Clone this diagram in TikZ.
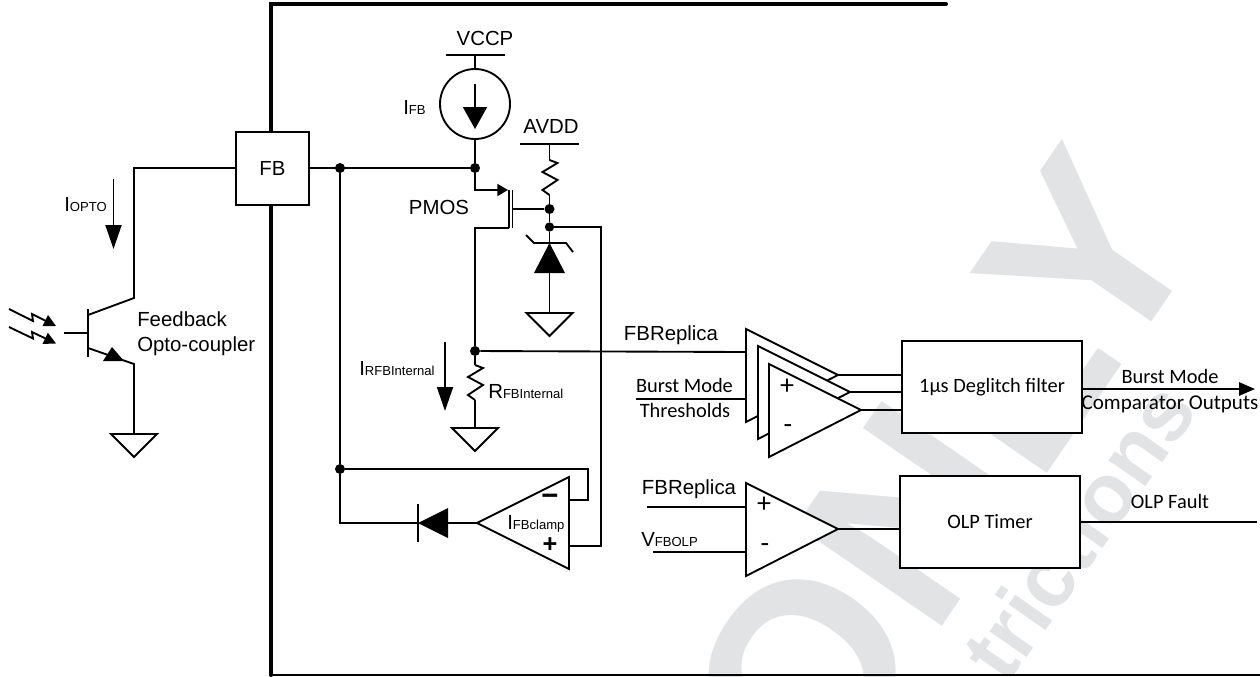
\documentclass[tikz,border=0pt]{standalone}
\usepackage{xcolor}
\usepackage{fontspec}
\usepackage{tikz}
\usetikzlibrary{arrows.meta}
\setmainfont{Liberation Sans}
\newfontfamily\calibrifont{Carlito}
\definecolor{markcolor}{HTML}{e1e3e4}
\newcommand{\sublabel}[2]{{\fontsize{15.3pt}{18pt}\selectfont #1}{\fontsize{9.8pt}{12pt}\selectfont #2}}
\newcommand{\gndsym}[1]{\draw[symline,shift={(#1)}] (-23,0) -- (23,0) -- (0,23) -- cycle;}
\newcommand{\ressym}[1]{\draw[wire,shift={(#1)}] (0,0) -- (8,3) -- (-7,12) -- (8,20) -- (-7,30) -- (0,35);}
\newcommand{\cmpsym}[1]{\draw[symline,shift={(#1)}] (0,0) -- (0,93) -- (92,46) -- cycle;}
\tikzset{
  wire/.style={line width=1.4pt, line join=miter},
  thickwire/.style={line width=3pt, line cap=round},
  symline/.style={line width=1.4pt, fill=white},
  blockbox/.style={draw, rectangle, line width=1.5pt, fill=white, inner sep=0pt, font=\calibrifont\fontsize{15.3pt}{18pt}\selectfont},
  arial/.style={inner sep=0pt, font=\fontsize{15.3pt}{18pt}\selectfont},
  calibri/.style={inner sep=0pt, font=\calibrifont\fontsize{15.3pt}{18pt}\selectfont},
  jdot/.style={circle, fill=black, inner sep=0pt, minimum size=#1},
  jdot/.default=7.5pt,
  bigsign/.style={inner sep=0pt, font=\bfseries\fontsize{17pt}{18pt}\selectfont},
  signtxt/.style={inner sep=0pt, font=\calibrifont\fontsize{21pt}{22pt}\selectfont},
  curarrow/.style={line width=1.4pt, -{Triangle[length=18pt, width=12pt]}},
  smallarrow/.style={line width=1.4pt, -{Triangle[length=8pt, width=9pt]}},
  lightarrow/.style={line width=1.4pt, -{Triangle[length=9pt, width=9pt]}},
}

\begin{document}
\begin{tikzpicture}[x=0.75pt, y=-0.75pt]%
\useasboundingbox (0,0) rectangle (1260,676);%
\begin{scope}%
\clip (0,0) rectangle (1260,676);%
\node[text=markcolor, inner sep=0pt, rotate=55.5, anchor=base east, font=\bfseries\fontsize{193pt}{193pt}\selectfont] (onlymark) at (1211,236) {ONL{}Y};%
\node[text=markcolor, inner sep=0pt, rotate=55, anchor=base east, font=\bfseries\fontsize{64pt}{64pt}\selectfont] (trictmark) at (1200,410) {trictions};%
\end{scope}%
\coordinate (framea) at (271,4);%
\coordinate (frameb) at (946,4);%
\coordinate (framec) at (271,675);%
\coordinate (framed) at (1260,675);%
\draw[thickwire] (frameb) -- (framea) -- (framec);%
\draw[line width=1.5pt] (framec) -- (framed);%
\node[blockbox, minimum width=54.5pt, minimum height=54.5pt, font=\fontsize{15.3pt}{18pt}\selectfont] (fbbox) at (272.5,168.5) {FB};%
\node[blockbox, minimum width=135pt, minimum height=69pt] (deglitchbox) at (992,387) {1µs Deglitch filter};%
\node[blockbox, minimum width=135pt, minimum height=69pt] (olpbox) at (990,522) {OLP Timer};%
\coordinate (colltop) at (134,168);%
\coordinate (collend) at (134,298);%
\coordinate (qbarc) at (88,315);%
\coordinate (qbara) at (88,309);%
\coordinate (qbarb) at (88,357);%
\coordinate (qbase) at (64,333);%
\coordinate (qbasein) at (88,333);%
\coordinate (qbare) at (88,348);%
\coordinate (emitend) at (134,364);%
\coordinate (gndq) at (134,434);%
\draw[wire] (fbbox.west |- colltop) -- (colltop) -- (collend) -- (qbarc);%
\draw[wire] (qbara) -- (qbarb);%
\draw[wire] (qbase) -- (qbasein);%
\draw[wire] (qbare) -- (emitend) -- (gndq);%
\fill (103,361) -- (112,347) -- (124,361) -- cycle;%
\gndsym{gndq}%
\coordinate (ioptoa) at (113.5,179);%
\coordinate (ioptob) at (113.5,249);%
\draw[curarrow] (ioptoa) -- (ioptob);%
\node[arial, anchor=base west] (ioptolabel) at (64,211) {\sublabel{I}{OPTO}};%
\draw[lightarrow] (9,309) -- (33,321) -- (32,314) -- (56,326);%
\draw[lightarrow] (9,327) -- (33,338.5) -- (32,332) -- (56,343.5);%
\node[arial, anchor=base west] (fblabel) at (137,326) {Feedback};%
\node[arial, anchor=base west] (optolabel) at (137,351) {Opto-coupler};%
\coordinate (vccpl) at (446,55);%
\coordinate (vccpr) at (505,55);%
\coordinate (vccpmid) at (475,55);%
\node[draw, circle, line width=1.4pt, minimum size=52.5pt, inner sep=0pt] (isrc) at (475,104) {};%
\coordinate (isrca) at (475,84);%
\coordinate (isrcb) at (475,129);%
\node[arial, anchor=base] (vccplabel) at (485,45) {VCCP};%
\node[arial, anchor=base west] (ifblabel) at (403,114) {\sublabel{I}{FB}};%
\draw[wire] (vccpl) -- (vccpr);%
\draw[wire] (vccpmid) -- (isrc.north);%
\draw[line width=1.4pt, -{Triangle[length=16.5pt, width=18pt]}] (isrca) -- (isrcb);%
\node[jdot] (nodefb) at (475,168) {};%
\node[jdot] (nodeleft) at (340,168) {};%
\coordinate (srcturn) at (475,190);%
\coordinate (srctip) at (508,190);%
\coordinate (gatebarb) at (509,228);%
\coordinate (gatebara) at (509,190);%
\coordinate (gatetop) at (512.5,190);%
\coordinate (gatebot) at (512.5,228);%
\coordinate (gatein) at (512.5,209);%
\coordinate (drainturn) at (475,228);%
\draw[wire] (isrc.south) -- (nodefb);%
\draw[wire] (fbbox.east |- nodefb) -- (nodefb);%
\draw[smallarrow] (nodefb) -- (srcturn) -- (srctip);%
\draw[wire] (gatebara) -- (gatebarb);%
\draw[wire] (gatetop) -- (gatebot);%
\node[arial, anchor=base] (pmoslabel) at (439,214) {PMOS};%
\coordinate (avddl) at (520,144);%
\coordinate (avddr) at (579,144);%
\coordinate (avddmid) at (549.5,144);%
\coordinate (resa) at (549.5,160);%
\coordinate (resb) at (549.5,195);%
\node[arial, anchor=base] (avddlabel) at (551,133) {AVDD};%
\draw[wire] (avddl) -- (avddr);%
\draw[wire] (avddmid) -- (resa);%
\ressym{resa}%
\node[jdot] (nodegate) at (549.5,209) {};%
\node[jdot, minimum size=7pt] (nodeclamp) at (549.5,227) {};%
\draw[wire] (resb) -- (nodegate);%
\draw[wire] (nodegate) -- (nodeclamp);%
\draw[wire] (gatein) -- (nodegate);%
\coordinate (zenertip) at (549.5,243);%
\coordinate (zenerbase) at (549.5,273);%
\coordinate (gndz) at (549.5,313);%
\draw[wire] (nodeclamp) -- (zenertip);%
\draw[wire] (526,235) -- (534,243) -- (566,243) -- (573,252);%
\fill (zenertip) -- (565,273) -- (534,273) -- cycle;%
\draw[wire] (zenerbase) -- (gndz);%
\gndsym{gndz}%
\node[jdot] (nodefbr) at (475,351) {};%
\coordinate (resc) at (475,365);%
\coordinate (resd) at (475,400);%
\coordinate (gndr) at (475,428);%
\draw[wire] (gatebarb) -- (drainturn) -- (nodefbr);%
\draw[wire] (nodefbr) -- (resc);%
\ressym{resc}%
\draw[wire] (resd) -- (gndr);%
\gndsym{gndr}%
\coordinate (irfba) at (445,342);%
\coordinate (irfbb) at (445,411);%
\draw[curarrow] (irfba) -- (irfbb);%
\node[arial, anchor=base west] (irfblabel) at (359,375) {\sublabel{I}{RFBInternal}};%
\node[arial, anchor=base west] (rfblabel) at (488,398) {\sublabel{R}{FBInternal}};%
\node[jdot] (nodefeed) at (340,469) {};%
\coordinate (diodeout) at (340,523);%
\coordinate (diodebar) at (418,523);%
\coordinate (diodebase) at (448,523);%
\coordinate (clamptip) at (477,523);%
\coordinate (clampfeeda) at (588,469);%
\coordinate (clampfeedb) at (588,500);%
\coordinate (clampneg) at (569,500);%
\coordinate (clamppos) at (569,546);%
\coordinate (clampturn) at (601,546);%
\coordinate (clamptop) at (601,227);%
\draw[wire] (nodeleft) -- (nodefeed) -- (diodeout) -- (diodebar);%
\draw[wire] (418,504) -- (418,542);%
\fill (diodebar) -- (448,508) -- (448,538) -- cycle;%
\draw[wire] (diodebase) -- (clamptip);%
\draw[wire] (nodefeed) -- (clampfeeda) -- (clampfeedb) -- (clampneg);%
\draw[wire] (nodeclamp) -- (clamptop) -- (clampturn) -- (clamppos);%
\draw[wire] (nodefbr) -- (746,352);%
\draw[symline] (clamptip) -- (569,477) -- (569,569) -- cycle;%
\node[bigsign, font=\bfseries\fontsize{22pt}{22pt}\selectfont] (clampminus) at (550,500) {−};%
\node[bigsign, font=\bfseries\fontsize{19pt}{22pt}\selectfont] (clampplus) at (550,545) {+};%
\node[arial, anchor=base west] (clamplabel) at (507,529) {\sublabel{I}{FBclamp}};%
\node[arial, anchor=base] (replicaa) at (671,340) {FBReplica};%
\node[calibri, anchor=base] (burstin) at (684.5,392) {Burst Mode};%
\node[calibri, anchor=base] (threshin) at (685,417) {Thresholds};%
\coordinate (thresha) at (636,399);%
\coordinate (threshb) at (746,399);%
\draw[wire] (thresha) -- (threshb);%
\cmpsym{746,329}%
\cmpsym{758,346}%
\cmpsym{769,364}%
\draw[wire] (838,375) -- (deglitchbox.west |- 838,375);%
\draw[wire] (850,392) -- (deglitchbox.west |- 850,392);%
\draw[wire] (861,410) -- (deglitchbox.west |- 861,410);%
\node[signtxt] (cmpplus) at (787,387) {+};%
\node[signtxt] (cmpminus) at (788,429) {-};%
\node[arial, anchor=base] (replicab) at (689,494) {FBReplica};%
\node[arial, anchor=base west] (vfbolplabel) at (641,546) {\sublabel{V}{FBOLP}};%
\coordinate (replicaw) at (647,507);%
\coordinate (replicae) at (746,507);%
\coordinate (vfbolpw) at (653,552);%
\coordinate (vfbolpe) at (746,552);%
\draw[wire] (replicaw) -- (replicae);%
\draw[wire] (vfbolpw) -- (vfbolpe);%
\cmpsym{746,483}%
\draw[wire] (838,529) -- (olpbox.west |- 838,529);%
\node[signtxt] (olpplus) at (764,505) {+};%
\node[signtxt] (olpminus) at (765,548) {-};%
\coordinate (burstend) at (1255,389);%
\coordinate (faultend) at (1257,522);%
\draw[line width=1.4pt, -{Triangle[length=12pt, width=10pt]}] (deglitchbox.east |- burstend) -- (burstend);%
\draw[wire] (olpbox.east |- faultend) -- (faultend);%
\node[calibri, anchor=base] (burstout) at (1170,383) {Burst Mode};%
\node[calibri, anchor=base, font=\calibrifont\fontsize{15.8pt}{18pt}\selectfont] (outputlabel) at (1170,409) {Comparator Outputs};%
\node[calibri, anchor=base] (faultlabel) at (1170,508) {OLP Fault};%
\end{tikzpicture}
\end{document}
